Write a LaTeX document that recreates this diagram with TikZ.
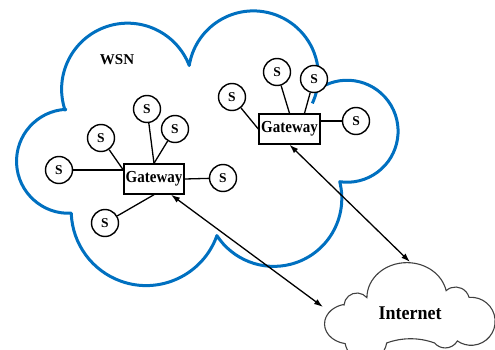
\documentclass[tikz,border=0pt]{standalone}
\usepackage{fontspec}
\setmainfont{Liberation Serif}
\usetikzlibrary{arrows.meta}
\definecolor{wsnblue}{RGB}{0,112,192}
\begin{document}
\begin{tikzpicture}[x=1pt,y=1pt,
  sensor/.style={circle,draw,line width=1.4pt,fill=white,minimum size=27pt,inner sep=0pt,font=\fontsize{13.5}{13.5}\selectfont\bfseries},
  gw/.style={rectangle,draw,line width=1.4pt,fill=white,minimum width=60pt,minimum height=30pt,inner sep=1pt,font=\fontsize{15}{15}\selectfont\bfseries},
  link/.style={line width=1.3pt},
  cloudline/.style={draw=wsnblue,line width=3pt,line join=round},
  netline/.style={draw=black!75,line width=1.1pt,fill=white},
  biarrow/.style={line width=1.3pt,{Latex[length=9pt,width=6pt]}-{Latex[length=9pt,width=6pt]}}]
\useasboundingbox (0,0) rectangle (495,349);
\clip (0,0) rectangle (495,349);
% WSN cloud
\draw[cloudline] (65,239)
  arc[start angle=-161.6, end angle=-339, radius=66]
  arc[start angle=-189.2, end angle=-372.7, radius=65]
  arc[start angle=-233.6, end angle=-458.3, radius=51]
  arc[start angle=-345.8, end angle=-506.8, radius=68]
  arc[start angle=-19.5, end angle=-178, radius=75]
  arc[start angle=-87, end angle=-267, radius=52]
  -- cycle;
\draw[cloudline] (316.8,258.8) arc[start angle=-372.7, end angle=-385, radius=65];
% Internet cloud
\draw[netline] (344,44)
  arc[start angle=-184.4, end angle=-320, radius=13]
  arc[start angle=-180, end angle=-348.5, x radius=40, y radius=35]
  arc[start angle=-227.7, end angle=-345, radius=14]
  arc[start angle=-265, end angle=-485, radius=24]
  arc[start angle=-30, end angle=-140, radius=14]
  arc[start angle=70, end angle=110, radius=70]
  arc[start angle=-8.2, end angle=-170, radius=21]
  arc[start angle=-100, end angle=-255, x radius=25, y radius=20]
  -- cycle;
\node[font=\fontsize{18}{18}\selectfont\bfseries] (inet) at (410,36) {\scalebox{1}[1.08]{Internet}};
\node[font=\fontsize{15}{15}\selectfont\bfseries] (wsn) at (117,289) {WSN};
% gateways
\node[gw] (g1) at (154,170) {\scalebox{1}[1.12]{Gateway}};
\node[gw, minimum width=61pt] (g2) at (289.5,220) {\scalebox{1}[1.12]{Gateway}};
% sensors
\node[sensor] (s1) at (101,211) {S};
\node[sensor] (s2) at (147,240) {S};
\node[sensor] (s3) at (175,220) {S};
\node[sensor] (s4) at (223,171) {S};
\node[sensor] (s5) at (105,126) {S};
\node[sensor] (s6) at (59,179) {S};
\node[sensor] (t1) at (232,252) {S};
\node[sensor] (t2) at (277,277) {S};
\node[sensor] (t3) at (314,270) {S};
\node[sensor] (t4) at (356,228) {S};
% links
\draw[link] (s6) -- (s6 -| g1.west);
\draw[link] (s1) -- (s6 -| g1.west);
\draw[link] (s2) -- (g1.north);
\draw[link] (s3) -- (g1.north);
\draw[link] (s4) -- (g1.east);
\draw[link] (s5) -- (g1.south);
\draw[link] (t1) -- (g2.west);
\draw[link] (t2) -- (g2.north);
\draw[link] (t3) -- ([xshift=15pt]g2.north);
\draw[link] (t4) -- (t4 -| g2.east);
% arrows to the Internet
\coordinate (i1) at (323,42);
\coordinate (i2) at (410,87);
\draw[biarrow] ([xshift=17pt]g1.south) -- (i1);
\draw[biarrow] (g2.south) -- (i2);
\end{tikzpicture}
\end{document}
